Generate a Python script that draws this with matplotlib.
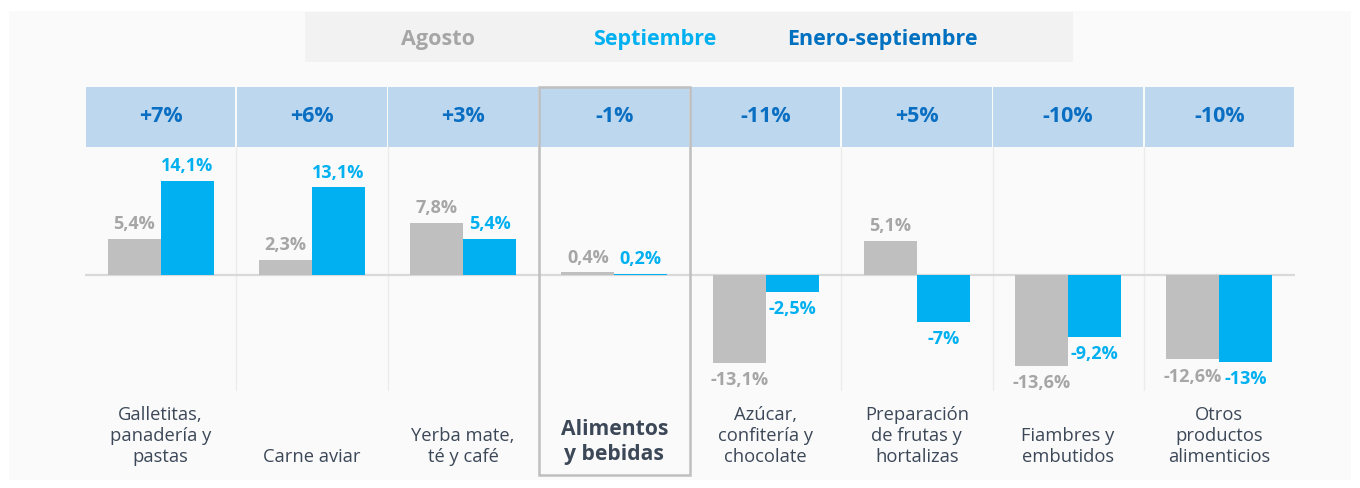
import numpy as np
import matplotlib.pyplot as plt
from matplotlib.patches import Rectangle

plt.rcParams["font.family"] = ["Open Sans", "DejaVu Sans"]

categorias = [
    "Galletitas,\npanadería y\npastas",
    "Carne aviar",
    "Yerba mate,\nté y café",
    "Alimentos\ny bebidas",
    "Azúcar,\nconfitería y\nchocolate",
    "Preparación\nde frutas y\nhortalizas",
    "Fiambres y\nembutidos",
    "Otros\nproductos\nalimenticios",
]
agosto = [5.4, 2.3, 7.8, 0.4, -13.1, 5.1, -13.6, -12.6]
septiembre = [14.1, 13.1, 5.4, 0.2, -2.5, -7.0, -9.2, -13.0]
enero_sep = [7, 6, 3, -1, -11, 5, -10, -10]
total_idx = 3

GRIS = "#bfbfbf"
GRIS_TXT = "#a6a6a6"
CELESTE = "#00b0f0"
AZUL = "#0a6fc2"
CABECERA = "#bdd7ee"
TEXTO = "#3c4858"

W, H = 1360, 488
fig = plt.figure(figsize=(W / 100, H / 100), dpi=100)
fig.patch.set_facecolor("white")

# background panel and legend strip, in figure pixels
bg = fig.add_axes([0, 0, 1, 1])
bg.set_xlim(0, W)
bg.set_ylim(H, 0)
bg.axis("off")
bg.add_patch(Rectangle((9, 11), 1342, 469, color="#fafafa", lw=0))
bg.add_patch(Rectangle((305, 12), 768, 50, color="#f2f2f2", lw=0))
for txt, col, xc in [("Agosto", GRIS_TXT, 438), ("Septiembre", CELESTE, 655),
                     ("Enero-septiembre", "#0070c0", 882)]:
    bg.text(xc, 40, txt, color=col, fontsize=15.5, fontweight="bold",
            ha="center", va="center")

# main axes: one unit per category, percent on y
left, right = 85, 1295
base_px = 275
px_per_pct = 6.7
ax = fig.add_axes([left / W, 0, (right - left) / W, 1])
ax.set_xlim(-0.5, len(categorias) - 0.5)
ax.set_ylim(-(H - base_px) / px_per_pct, base_px / px_per_pct)
ax.axis("off")
ax.patch.set_alpha(0)


def yf(px):
    # pixel row from top -> axes fraction
    return 1 - px / H


x = np.arange(len(categorias))
bw = 53 / ((right - left) / len(categorias))

# column separators and baseline
for b in x[1:] - 0.5:
    ax.plot([b, b], [yf(147), yf(390)], transform=ax.get_xaxis_transform(),
            color="#ececec", lw=1, zorder=0)
ax.axhline(0, color="#d9d9d9", lw=1.6, zorder=1)

ax.bar(x - bw / 2, agosto, width=bw, color=GRIS, zorder=2)
ax.bar(x + bw / 2, septiembre, width=bw, color=CELESTE, zorder=2)


def etiqueta(v):
    s = f"{v:.1f}".replace(".", ",")
    if s.endswith(",0"):
        s = s[:-2]
    return s + "%"


for xi, a, s in zip(x, agosto, septiembre):
    for v, dx, c in [(a, -bw / 2, GRIS_TXT), (s, bw / 2, CELESTE)]:
        off = 4 if v >= 0 else -6
        ax.annotate(etiqueta(v), (xi + dx, v), xytext=(0, off),
                    textcoords="offset points", ha="center",
                    va="bottom" if v >= 0 else "top",
                    color=c, fontsize=13, fontweight="bold")

# header row with the January-September variation
tr = ax.get_xaxis_transform()
for xi, v in zip(x, enero_sep):
    ax.add_patch(Rectangle((xi - 0.5 + 0.006, yf(147)), 1 - 0.012,
                           yf(87) - yf(147), transform=tr,
                           color=CABECERA, lw=0, zorder=1))
    ax.text(xi, yf(117), f"{v:+d}%", transform=tr, ha="center", va="center",
            color=AZUL, fontsize=15.5, fontweight="bold")

# category names, bottom-aligned
for xi, cat in enumerate(categorias):
    if xi == total_idx:
        ax.text(xi, yf(442), cat, transform=tr, ha="center", va="center",
                color=TEXTO, fontsize=15.2, fontweight="bold",
                linespacing=1.25)
    else:
        ax.text(xi, yf(466), cat, transform=tr, ha="center", va="bottom",
                color=TEXTO, fontsize=13.2, linespacing=1.22)

# frame around the total column
ax.add_patch(Rectangle((total_idx - 0.5, yf(475)), 1, yf(87) - yf(475),
                       transform=tr, fill=False, edgecolor="#bfbfbf",
                       lw=1.8, zorder=3, clip_on=False))

fig.savefig("out.png", dpi=100)
